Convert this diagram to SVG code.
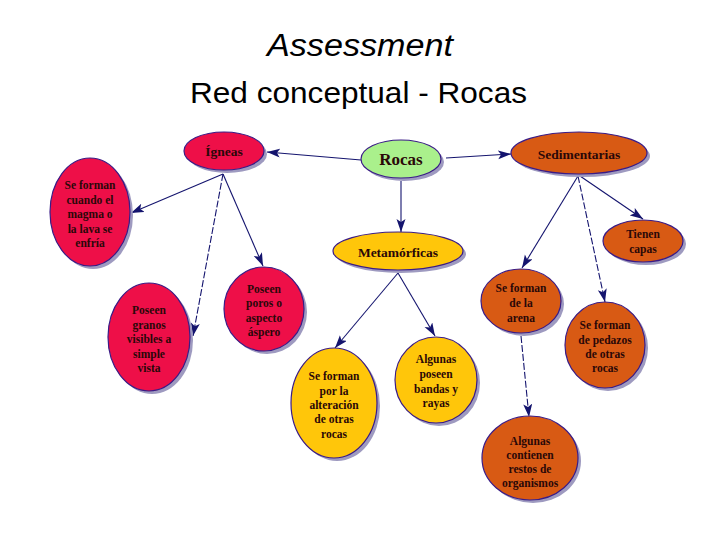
<svg xmlns="http://www.w3.org/2000/svg" width="720" height="540" viewBox="0 0 720 540">
<defs>
<marker id="ah" markerUnits="userSpaceOnUse" markerWidth="14" markerHeight="10" refX="13" refY="4.5" orient="auto">
<path d="M0,0 L13,4.5 L0,9 L3,4.5 z" fill="#14146E"/>
</marker>
</defs>
<style>
.title{font-family:"Liberation Sans",Arial,sans-serif;fill:#000}
.sh{fill:#9E9AC0}
.red{fill:#EE0F48;stroke:#3A1C86;stroke-width:1.2}
.org{fill:#D85A14;stroke:#3A1C86;stroke-width:1.2}
.yel{fill:#FFC60A;stroke:#3A1C86;stroke-width:1.2}
.grn{fill:#AAF08C;stroke:#3A1C86;stroke-width:1.2}
.t{font-family:"Liberation Serif","Times New Roman",serif;font-weight:bold;font-size:11.5px;text-anchor:middle;fill:#2A0808}
.tb{font-size:13.5px}
.tr{font-size:17px}
.c{stroke:#14146E;stroke-width:1.1;fill:none;marker-end:url(#ah)}
.d{stroke-dasharray:7 2}
</style>
<rect width="720" height="540" fill="#fff"/>
<text class="title" x="360" y="56" font-size="31" font-style="italic" text-anchor="middle" textLength="186" lengthAdjust="spacingAndGlyphs">Assessment</text>
<text class="title" x="358.5" y="103" font-size="30" text-anchor="middle" textLength="337" lengthAdjust="spacingAndGlyphs">Red conceptual - Rocas</text>

<g id="connectors">
<line class="c" x1="361" y1="160" x2="267" y2="152"/>
<line class="c" x1="446" y1="158" x2="511" y2="154"/>
<line class="c" x1="401" y1="181" x2="401" y2="232"/>
<line class="c" x1="223" y1="174" x2="131" y2="213"/>
<line class="c" x1="223" y1="174" x2="263" y2="266"/>
<line class="c d" x1="223" y1="174" x2="193" y2="336"/>
<line class="c" x1="578" y1="176" x2="522" y2="268"/>
<line class="c d" x1="578" y1="176" x2="605" y2="302"/>
<line class="c" x1="580" y1="176" x2="643" y2="219"/>
<line class="c" x1="398" y1="273" x2="335" y2="348"/>
<line class="c" x1="398" y1="273" x2="435" y2="336"/>
<line class="c d" x1="521" y1="336" x2="529" y2="417"/>
</g>

<g id="n-rocas">
<ellipse class="sh" cx="404" cy="162" rx="40" ry="19"/>
<ellipse class="grn" cx="401" cy="159" rx="40" ry="19"/>
<text class="t tr" x="401" y="165">Rocas</text>
</g>
<g id="n-igneas">
<ellipse class="sh" cx="227" cy="154" rx="40" ry="19"/>
<ellipse class="red" cx="224" cy="151" rx="40" ry="19"/>
<text class="t tb" x="224" y="156">Ígneas</text>
</g>
<g id="n-sedimentarias">
<ellipse class="sh" cx="582" cy="156" rx="68" ry="21"/>
<ellipse class="org" cx="579" cy="153" rx="68" ry="21"/>
<text class="t tb" x="579" y="159">Sedimentarias</text>
</g>
<g id="n-metamorficas">
<ellipse class="sh" cx="401" cy="254" rx="65" ry="19"/>
<ellipse class="yel" cx="398" cy="251" rx="65" ry="19"/>
<text class="t tb" x="398" y="257">Metamórficas</text>
</g>
<g id="n-cuando">
<ellipse class="sh" cx="93" cy="215" rx="40" ry="54"/>
<ellipse class="red" cx="90" cy="212" rx="40" ry="54"/>
<text class="t" x="90" y="189">Se forman</text>
<text class="t" x="90" y="203.5">cuando el</text>
<text class="t" x="90" y="218">magma o</text>
<text class="t" x="90" y="232.5">la lava se</text>
<text class="t" x="90" y="247">enfría</text>
</g>
<g id="n-granos">
<ellipse class="sh" cx="152" cy="340" rx="41" ry="54"/>
<ellipse class="red" cx="149" cy="337" rx="41" ry="54"/>
<text class="t" x="149" y="314">Poseen</text>
<text class="t" x="149" y="329">granos</text>
<text class="t" x="149" y="343">visibles a</text>
<text class="t" x="149" y="358">simple</text>
<text class="t" x="149" y="372">vista</text>
</g>
<g id="n-poros">
<ellipse class="sh" cx="267" cy="312" rx="40" ry="42"/>
<ellipse class="red" cx="264" cy="309" rx="40" ry="42"/>
<text class="t" x="264" y="293">Poseen</text>
<text class="t" x="264" y="307">poros o</text>
<text class="t" x="264" y="322">aspecto</text>
<text class="t" x="264" y="336">áspero</text>
</g>
<g id="n-alteracion">
<ellipse class="sh" cx="337" cy="406" rx="43" ry="55"/>
<ellipse class="yel" cx="334" cy="403" rx="43" ry="55"/>
<text class="t" x="334" y="380">Se forman</text>
<text class="t" x="334" y="395">por la</text>
<text class="t" x="334" y="409">alteración</text>
<text class="t" x="334" y="423">de otras</text>
<text class="t" x="334" y="438">rocas</text>
</g>
<g id="n-bandas">
<ellipse class="sh" cx="439" cy="383" rx="41" ry="43"/>
<ellipse class="yel" cx="436" cy="380" rx="41" ry="43"/>
<text class="t" x="436" y="363">Algunas</text>
<text class="t" x="436" y="378">poseen</text>
<text class="t" x="436" y="393">bandas y</text>
<text class="t" x="436" y="407">rayas</text>
</g>
<g id="n-capas">
<ellipse class="sh" cx="646" cy="244" rx="40" ry="21"/>
<ellipse class="org" cx="643" cy="241" rx="40" ry="21"/>
<text class="t" x="643" y="238">Tienen</text>
<text class="t" x="643" y="253">capas</text>
</g>
<g id="n-arena">
<ellipse class="sh" cx="524" cy="304" rx="40" ry="32"/>
<ellipse class="org" cx="521" cy="301" rx="40" ry="32"/>
<text class="t" x="521" y="292">Se forman</text>
<text class="t" x="521" y="307">de la</text>
<text class="t" x="521" y="322">arena</text>
</g>
<g id="n-pedazos">
<ellipse class="sh" cx="608" cy="348" rx="40" ry="43"/>
<ellipse class="org" cx="605" cy="345" rx="40" ry="43"/>
<text class="t" x="605" y="329">Se forman</text>
<text class="t" x="605" y="344">de pedazos</text>
<text class="t" x="605" y="358">de otras</text>
<text class="t" x="605" y="372">rocas</text>
</g>
<g id="n-organismos">
<ellipse class="sh" cx="533" cy="461" rx="48" ry="42"/>
<ellipse class="org" cx="530" cy="458" rx="48" ry="42"/>
<text class="t" x="530" y="445">Algunas</text>
<text class="t" x="530" y="459">contienen</text>
<text class="t" x="530" y="473">restos de</text>
<text class="t" x="530" y="487">organismos</text>
</g>
</svg>
